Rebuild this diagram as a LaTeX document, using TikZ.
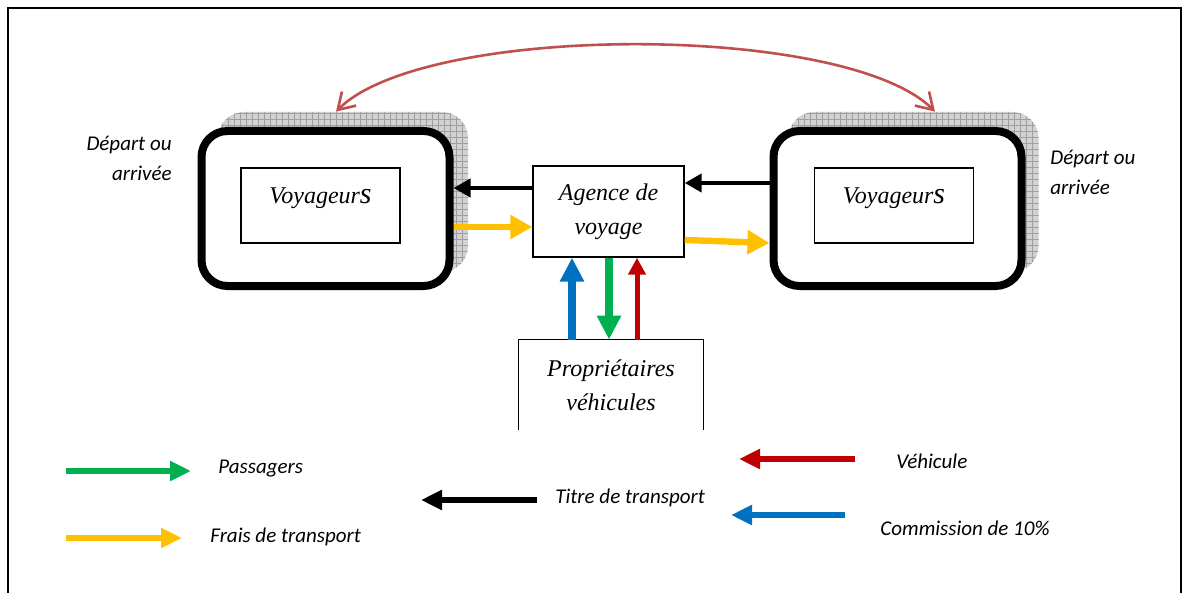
\documentclass[tikz,border=0pt]{standalone}
\usepackage{fontspec}
\setmainfont{Liberation Serif}
\newfontfamily\calibri{Carlito}
\usetikzlibrary{
    positioning, % placement relatif
    arrows.meta, % pointes de flèches
    patterns     % quadrillage des ombres
}
\definecolor{vert}{HTML}{00B050}
\definecolor{jaune}{HTML}{FFC000}
\definecolor{bleu}{HTML}{0070C0}
\definecolor{rouge}{HTML}{C00000}
\definecolor{rougec}{HTML}{C0504D}

\begin{document}
\begin{tikzpicture}[x=0.5pt, y=-0.5pt]

    % --- Styles ---
    \tikzset{
        % ombre quadrillée derrière les grands cadres
        ombre/.style={
            rounded corners=13pt,
            fill=gray!35,
            postaction={pattern=grid, pattern color=gray!75},
            minimum width=125pt,
            minimum height=80pt
        },
        % grand cadre arrondi (départ ou arrivée)
        cadre/.style={
            draw,
            line width=4pt,
            rounded corners=13pt,
            fill=white,
            minimum width=124pt,
            minimum height=77.5pt
        },
        % rectangle intérieur
        interieur/.style={
            draw,
            line width=0.8pt,
            minimum width=79.5pt,
            minimum height=37.5pt
        },
        % boîtes simples
        boite/.style={
            draw,
            line width=0.7pt,
            align=center,
            font=\itshape\fontsize{12}{17}\selectfont
        },
        texte_boite/.style={
            font=\itshape\fontsize{12}{17}\selectfont
        },
        % textes en Calibri
        legende/.style={
            font=\calibri\itshape\fontsize{10.5}{15}\selectfont,
            inner sep=0pt
        },
        % flèches
        fleche/.style={
            line width=2.2pt,
            -{Triangle[length=8.5pt, width=9pt]}
        },
        frais/.style={
            jaune,
            line width=3.2pt,
            -{Triangle[length=11pt, width=11.5pt]}
        },
        verticale/.style={
            line width=3.8pt,
            -{Triangle[length=12pt, width=11.5pt]}
        },
        fine/.style={
            rouge,
            line width=2.5pt,
            -{Triangle[length=8.5pt, width=8.5pt]}
        },
        cle/.style={
            line width=3.3pt,
            -{Triangle[length=10.5pt, width=9.5pt]}
        }
    }

    \useasboundingbox (0,0) rectangle (1188,593);

    % --- Cadre de la page (ouvert en bas) ---
    \draw[line width=1pt] (8,593) -- (8,8) -- (1181,8) -- (1181,593);

    % --- Les deux cadres des voyageurs ---
    \node[ombre] (omb1) at (343,192) {};
    \node[cadre] (vg1) at (325.5,208.5) {};
    \node[interieur] (in1) at (320.5,205.5) {};
    \node[texte_boite] (vg1t) at (320.5,198) {Voyageur{\fontsize{15}{15}\selectfont s}};

    \node[ombre] (omb2) at (913.5,192) {};
    \node[cadre] (vg2) at (897.5,208.5) {};
    \node[interieur] (in2) at (894,205.5) {};
    \node[texte_boite] (vg2t) at (894,198) {Voyageur{\fontsize{15}{15}\selectfont s}};

    \node[legende, anchor=east, align=right] (dep1) at (172,158) {Départ ou\\arrivée};
    \node[legende, anchor=west, align=left] (dep2) at (1050,172) {Départ ou\\arrivée};

    % --- Agence et propriétaires ---
    \node[boite, minimum width=75.5pt, minimum height=45.5pt] (agence) at (608.5,211.5) {Agence de\\voyage};
    \node[texte_boite, align=center, minimum width=92pt, minimum height=45pt] (proprio) at (611,385) {Propriétaires\\véhicules};
    \draw[line width=0.7pt] (proprio.south west) -- (proprio.north west) -- (proprio.north east) -- (proprio.south east);

    % --- Flèches entre les boîtes ---
    \draw[fleche] ([yshift=11.75pt]agence.west) -- ([yshift=10.25pt]vg1.east);
    \draw[frais] ([yshift=-9.25pt]vg1.east) -- ([yshift=-7.75pt]agence.west);
    \draw[fleche] ([yshift=12.75pt]vg2.west) -- ([yshift=14.25pt]agence.east);
    \draw[frais] ([yshift=-14.25pt]agence.east) -- ([yshift=-17.25pt]vg2.west);

    \draw[verticale, bleu] ([xshift=-19.5pt]proprio.north) -- ([xshift=-18.25pt]agence.south);
    \draw[verticale, vert] ([xshift=0.25pt]agence.south) -- ([xshift=-1pt]proprio.north);
    \draw[fine] ([xshift=13pt]proprio.north) -- ([xshift=14.25pt]agence.south);

    % arc entre départ et arrivée
    \draw[rougec, line width=1.3pt, {Straight Barb[length=8pt, width=10pt]}-{Straight Barb[length=8pt, width=10pt]}]
        ([xshift=-3.5pt]omb1.north) .. controls +(44.5pt,44.5pt) and +(-44.5pt,44.5pt) .. ([xshift=10.75pt]omb2.north);

    % --- Légende ---
    \node[legende, anchor=west] (lpass) at (218,469) {Passagers};
    \node[legende, anchor=west] (lfrais) at (210,537) {Frais de transport};
    \node[legende, anchor=west] (ltitre) at (555,498) {Titre de transport};
    \node[legende, anchor=west] (lvehi) at (896,461) {Véhicule};
    \node[legende, anchor=west] (lcomm) at (880,528) {Commission de 10\%};

    \coordinate (pa1) at (66,471);   \coordinate (pa2) at (191,471);
    \coordinate (fr1) at (66,538);   \coordinate (fr2) at (182,538);
    \coordinate (ti1) at (537,500);  \coordinate (ti2) at (421,500);
    \coordinate (ve1) at (855,459);  \coordinate (ve2) at (739,459);
    \coordinate (co1) at (845,515);  \coordinate (co2) at (731,515);

    \draw[cle, vert] (pa1) -- (pa2);
    \draw[cle, jaune] (fr1) -- (fr2);
    \draw[cle, black] (ti1) -- (ti2);
    \draw[cle, rouge] (ve1) -- (ve2);
    \draw[cle, bleu] (co1) -- (co2);

\end{tikzpicture}
\end{document}
